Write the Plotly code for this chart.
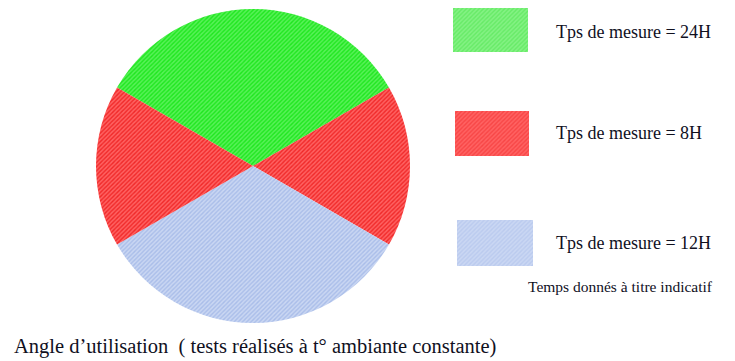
import plotly.graph_objects as go

# Data
slice_labels = ["24H", "8H (a)", "12H", "8H (b)"]
slice_values = [120, 60, 120, 60]
slice_bg = ["#58f258", "#ff6262", "#cad7f3", "#ff6262"]
slice_fg = ["#1ee61e", "#f02828", "#a9bde9", "#f02828"]

legend_labels = ["Tps de mesure = 24H", "Tps de mesure = 8H", "Tps de mesure = 12H"]
legend_bg = ["#84f284", "#ff6262", "#cad7f3"]
legend_fg = ["#48e248", "#f02828", "#a9bde9"]

note_text = "Temps donnés à titre indicatif"
caption_text = "Angle d\u2019utilisation  ( tests réalisés à t° ambiante constante)"

W, H = 735, 361
FONT = "Liberation Serif, Times New Roman, serif"
TXT = "#10101e"

fig = go.Figure()

fig.add_trace(go.Pie(
    labels=slice_labels,
    values=slice_values,
    sort=False,
    direction="clockwise",
    rotation=-60,
    textinfo="none",
    hoverinfo="label",
    showlegend=False,
    marker=dict(
        colors=slice_bg,
        line=dict(width=0),
        pattern=dict(shape="/", fgcolor=slice_fg, bgcolor=slice_bg,
                     size=3, solidity=0.45),
    ),
    domain=dict(x=[96 / W, 410 / W], y=[1 - 323 / H, 1 - 9 / H]),
))

# legend swatches (layout positions)
boxes = [(453, 528, 8, 52), (455, 529, 111, 156), (457, 533, 220, 266)]
text_y = [32, 133, 243]
for i, (x0, x1, y0, y1) in enumerate(boxes):
    fig.add_trace(go.Scatter(
        x=[x0, x1, x1, x0, x0], y=[y0, y0, y1, y1, y0],
        mode="lines", fill="toself", line=dict(width=0),
        fillcolor=legend_bg[i],
        fillpattern=dict(shape="/", fgcolor=legend_fg[i], bgcolor=legend_bg[i],
                         size=3, solidity=0.45),
        showlegend=False, hoverinfo="skip",
    ))
    fig.add_annotation(
        x=554, y=text_y[i], xref="x", yref="y", text=legend_labels[i],
        showarrow=False, xanchor="left", yanchor="middle",
        font=dict(family=FONT, size=18, color=TXT),
    )

fig.add_annotation(
    x=526, y=286, xref="x", yref="y", text=note_text,
    showarrow=False, xanchor="left", yanchor="middle",
    font=dict(family=FONT, size=15.5, color=TXT),
)
fig.add_annotation(
    x=12, y=346, xref="x", yref="y", text=caption_text,
    showarrow=False, xanchor="left", yanchor="middle",
    font=dict(family=FONT, size=20.5, color=TXT),
)

fig.update_layout(
    width=W, height=H,
    margin=dict(l=0, r=0, t=0, b=0),
    paper_bgcolor="white", plot_bgcolor="white",
    xaxis=dict(range=[0, W], visible=False, fixedrange=True),
    yaxis=dict(range=[H, 0], visible=False, fixedrange=True),
)

fig.write_html(
    "out.html",
    config={"displayModeBar": False},
    post_script="document.body.style.margin='0';document.body.style.overflow='hidden';",
)
